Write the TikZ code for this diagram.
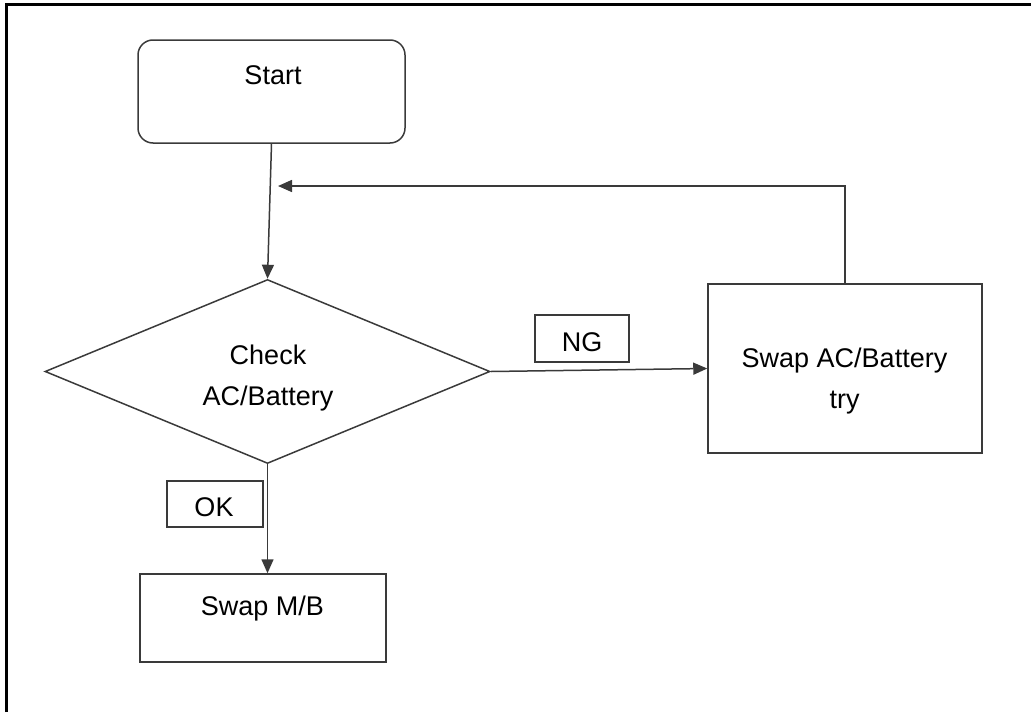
\documentclass[tikz,border=0pt]{standalone}
\usepackage{fontspec}
\setmainfont{Liberation Sans}
\usetikzlibrary{arrows.meta, shapes.geometric}
\definecolor{lineGray}{HTML}{3A3A3A}

\begin{document}
\begin{tikzpicture}[x=0.5pt, y=-0.5pt,
    box/.style={draw=lineGray, line width=0.75pt, inner sep=0pt},
    txt/.style={font=\fontsize{13.5}{20.5}\selectfont, align=center, inner sep=0pt},
    flow/.style={draw=lineGray, line width=0.75pt, -{Triangle[length=7pt, width=6pt]}}]
    \useasboundingbox (0,0) rectangle (1031,712);
    % page frame, cut at right and bottom
    \draw[line width=1.5pt] (6.5,712) -- (6.5,4.5) -- (1031,4.5);

    % shapes
    \node[box, rounded corners=7.5pt, minimum width=133.5pt, minimum height=51.5pt] (start) at (271.5,91.5) {};
    \node[box, diamond, minimum width=222.5pt, minimum height=92pt] (check) at (267.5,371.5) {};
    \node[box, minimum width=137pt, minimum height=84.5pt] (swapac) at (845,368.5) {};
    \node[box, minimum width=123pt, minimum height=44pt] (swapmb) at (263,618) {};
    \node[box, minimum width=47pt, minimum height=23.5pt] (ng) at (582,338.5) {};
    \node[box, minimum width=48pt, minimum height=23pt] (ok) at (215,504) {};

    % texts
    \node[txt, anchor=base] (startTxt) at (273,84) {Start};
    \node[txt] (checkTxt) at (268,378) {Check\\AC/Battery};
    \node[txt] (swapacTxt) at (844.5,381) {Swap AC/Battery\\try};
    \node[txt, anchor=base] (swapmbTxt) at (262.5,615) {Swap M/B};
    \node[txt, anchor=base] (ngTxt) at (582,351) {NG};
    \node[txt, anchor=base] (okTxt) at (214,516) {OK};

    % connectors
    \coordinate (loopIn) at (278,186);
    \draw[flow] (start.south) -- (check.north);
    \draw[flow] (check.east) -- (swapac.west);
    \draw[flow] (check.south) -- (check.south |- swapmb.north);
    \draw[flow] (swapac.north) |- (loopIn);
\end{tikzpicture}
\end{document}
